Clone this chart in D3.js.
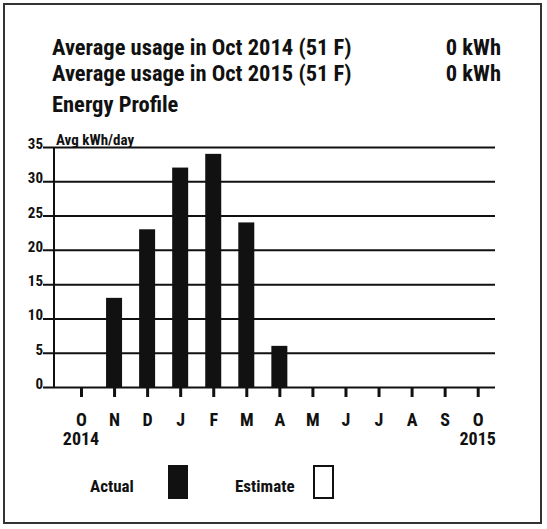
<!DOCTYPE html>
<html>
<head>
<meta charset="utf-8">
<script src="https://cdn.jsdelivr.net/npm/d3@7"></script>
<style>
  body { margin: 0; background: #fff; }
  text { font-family: Roboto, "Open Sans", sans-serif; font-stretch: condensed; font-weight: bold; fill: #111; }
</style>
</head>
<body>
<svg width="547" height="529"></svg>
<script>
const months = ['O','N','D','J','F','M','A','M','J','J','A','S','O'];
const actual = [null, 13, 23, 32, 34, 24, 6, null, null, null, null, null, null];
const yTicks = [0, 5, 10, 15, 20, 25, 30, 35];
const yearLabels = ['2014', '2015'];
const summaryRows = [
  ['Average usage in Oct 2014 (51 F)', '0 kWh'],
  ['Average usage in Oct 2015 (51 F)', '0 kWh']
];

const svg = d3.select('svg');
const ink = '#111';

// outer frame
svg.append('rect')
  .attr('x', 4).attr('y', 4)
  .attr('width', 537).attr('height', 519)
  .attr('fill', 'none').attr('stroke', '#333').attr('stroke-width', 2);

// header text
summaryRows.forEach((r, i) => {
  svg.append('text').attr('x', 52).attr('y', 55 + i * 26)
    .attr('font-size', 22.5).text(r[0]);
  svg.append('text').attr('x', 501).attr('y', 55 + i * 26)
    .attr('font-size', 22.5).attr('text-anchor', 'end').text(r[1]);
});
svg.append('text').attr('x', 52).attr('y', 112)
  .attr('font-size', 22.5).text('Energy Profile');

const xScale = d3.scaleLinear().domain([0, 12]).range([81, 477.7]);
const yScale = d3.scaleLinear().domain([0, 35]).range([387, 147]);

// y axis + gridlines
const yaxis = svg.append('g')
  .attr('transform', 'translate(43,0)')
  .call(d3.axisLeft(yScale).tickValues(yTicks).tickSize(-452).tickFormat(d3.format('d')));
yaxis.select('.domain').remove();
yaxis.selectAll('line').attr('stroke', ink).attr('stroke-width', 2);
yaxis.selectAll('text')
  .attr('x', 0).attr('dy', '0.1em')
  .attr('font-size', 15).attr('font-family', null).attr('text-anchor', 'end');

svg.append('line')
  .attr('x1', 54).attr('x2', 54)
  .attr('y1', yScale(35)).attr('y2', yScale(0) + 1)
  .attr('stroke', ink).attr('stroke-width', 2);

svg.append('text').attr('x', 56).attr('y', yScale(35) - 2)
  .attr('font-size', 15).text('Avg kWh/day');

// bars
const barW = 16;
svg.append('g').selectAll('rect')
  .data(actual.map((v, i) => ({i, v})).filter(d => d.v != null))
  .enter().append('rect')
  .attr('x', d => xScale(d.i) - barW / 2)
  .attr('y', d => yScale(d.v))
  .attr('width', barW)
  .attr('height', d => yScale(0) - yScale(d.v))
  .attr('fill', ink);

// x axis
const xaxis = svg.append('g')
  .attr('transform', `translate(0,${yScale(0)})`)
  .call(d3.axisBottom(xScale).tickValues(d3.range(13)).tickSize(10).tickFormat(i => months[i]));
xaxis.select('.domain').remove();
xaxis.selectAll('line').attr('stroke', ink).attr('stroke-width', 3);
xaxis.selectAll('text')
  .attr('y', 39).attr('dy', 0)
  .attr('font-size', 18).attr('font-family', null);

svg.append('text').attr('x', xScale(0)).attr('y', 445)
  .attr('font-size', 18).attr('text-anchor', 'middle').text(yearLabels[0]);
svg.append('text').attr('x', xScale(12)).attr('y', 445)
  .attr('font-size', 18).attr('text-anchor', 'middle').text(yearLabels[1]);

// legend
svg.append('text').attr('x', 90).attr('y', 492).attr('font-size', 17).text('Actual');
svg.append('rect').attr('x', 168).attr('y', 465).attr('width', 20).attr('height', 34).attr('fill', ink);
svg.append('text').attr('x', 235).attr('y', 492).attr('font-size', 17).text('Estimate');
svg.append('rect').attr('x', 314).attr('y', 466).attr('width', 19).attr('height', 32)
  .attr('fill', 'none').attr('stroke', ink).attr('stroke-width', 2);
</script>
</body>
</html>
